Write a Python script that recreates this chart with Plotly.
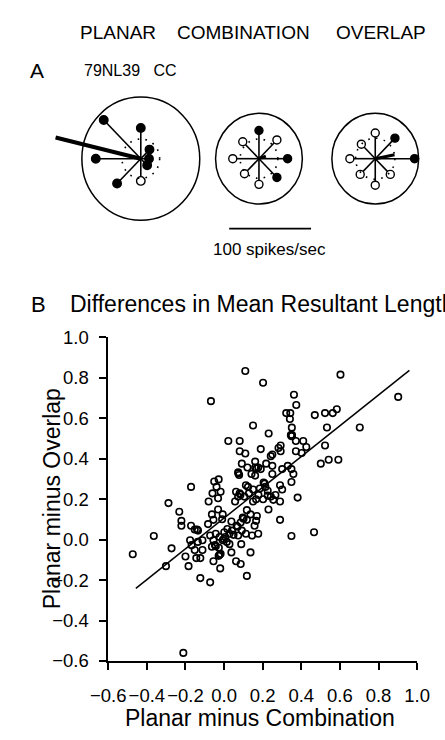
import numpy as np
import plotly.graph_objects as go

# ---------------- Panel B data ----------------
planar_minus_combination = [
    0.110, 0.202, -0.068, 0.362, 0.374, 0.322, 0.343, 0.341, 0.351, 0.346,
    0.352, 0.470, 0.150, 0.231, 0.022, 0.081, 0.081, 0.110, 0.190, 0.293,
    0.282, 0.293, 0.250, 0.242, 0.372, 0.410, 0.372, 0.402, 0.426, 0.161,
    0.092, 0.121, 0.161, 0.177, 0.190, 0.218, 0.250, 0.073, 0.078, 0.142,
    0.161, 0.250, 0.301, 0.330, 0.349, 0.359, 0.349, -0.051, -0.028, -0.039,
    -0.060, -0.018, -0.031, -0.080, -0.171, 0.113, 0.124, 0.150, 0.210, 0.214,
    0.185, 0.226, 0.062, 0.081, 0.073, 0.057, 0.105, 0.129, 0.178, 0.150,
    0.166, 0.202, 0.242, 0.255, 0.226, 0.266, 0.290, 0.301, 0.290, 0.381,
    0.230, 0.290, 0.349, 0.466, -0.288, -0.232, -0.221, -0.221, -0.364, -0.272,
    -0.301, -0.171, -0.152, -0.140, -0.176, -0.168, -0.136, -0.112, -0.152, -0.112,
    -0.200, -0.144, -0.123, -0.184, -0.123, -0.072, -0.083, -0.063, -0.055, -0.031,
    -0.007, -0.010, -0.072, -0.055, -0.063, -0.047, -0.023, -0.007, 0.006, 0.017,
    0.038, 0.041, 0.028, 0.028, -0.023, -0.055, -0.020, 0.038, 0.062, 0.086,
    0.118, 0.137, 0.089, 0.065, 0.086, 0.097, 0.118, 0.118, 0.092, 0.113,
    0.073, 0.145, 0.177, 0.158, 0.166, 0.170, 0.137, 0.049, 0.001, 0.014,
    -0.043, -0.027,
    0.603, 0.902, 0.523, 0.563, 0.584, 0.533, 0.703, 0.523, 0.501, 0.542,
    0.592, -0.473, -0.211,
    0.350, 0.168, 0.205, 0.085, -0.135, -0.043, -0.002, -0.018, -0.028, 0.070,
    0.101, 0.074,
]
planar_minus_overlap = [
    0.834, 0.776, 0.685, 0.717, 0.666, 0.626, 0.626, 0.597, 0.554, 0.517,
    0.517, 0.616, 0.565, 0.525, 0.488, 0.488, 0.437, 0.426, 0.448, 0.466,
    0.453, 0.437, 0.421, 0.413, 0.488, 0.488, 0.437, 0.429, 0.458, 0.386,
    0.376, 0.357, 0.357, 0.357, 0.349, 0.376, 0.365, 0.333, 0.320, 0.325,
    0.317, 0.325, 0.349, 0.365, 0.349, 0.325, 0.285, 0.288, 0.298, 0.261,
    0.229, 0.237, 0.205, 0.189, 0.261, 0.269, 0.261, 0.248, 0.277, 0.261,
    0.253, 0.242, 0.237, 0.229, 0.213, 0.189, 0.213, 0.229, 0.221, 0.189,
    0.200, 0.200, 0.213, 0.197, 0.218, 0.221, 0.269, 0.248, 0.189, 0.208,
    0.149, 0.098, 0.018, 0.037, 0.181, 0.138, 0.093, 0.069, 0.018, -0.043,
    -0.131, 0.069, 0.050, 0.050, -0.003, -0.027, -0.011, -0.003, -0.051, -0.051,
    -0.083, -0.091, -0.091, -0.131, -0.190, -0.211, 0.077, 0.125, 0.098, 0.149,
    0.125, 0.101, 0.021, -0.003, -0.035, -0.027, 0.013, -0.003, 0.013, 0.053,
    0.090, 0.045, 0.029, -0.022, -0.075, -0.107, -0.142, -0.063, -0.107, -0.120,
    -0.179, -0.063, -0.022, 0.069, 0.085, 0.109, 0.098, 0.146, 0.045, 0.029,
    0.021, 0.021, 0.029, 0.069, 0.093, 0.117, 0.125, 0.024, 0.037, -0.011,
    0.029, -0.040,
    0.816, 0.706, 0.626, 0.626, 0.645, 0.555, 0.555, 0.466, 0.376, 0.395,
    0.395, -0.072, -0.560,
    0.512, 0.352, 0.283, 0.222, 0.045, -0.032, 0.003, -0.070, -0.080, 0.064,
    0.104, 0.327,
]
fit_intercept = 0.107
fit_slope = 0.761
fit_x_range = [-0.457, 0.960]
tick_values = [-0.6, -0.4, -0.2, 0.0, 0.2, 0.4, 0.6, 0.8, 1.0]

# ---------------- Panel A data (spikes/sec) ----------------
directions_deg = [0, 45, 90, 135, 180, 225, 270, 315]
planar_rates = [10, 15, 36, 64, 55, 41, 26, 11]
combination_rates = [35, 31, 33, 28, 32, 25, 30, 31]
overlap_rates = [48, 34, 30, 24, 31, 26, 31, 26]
planar_filled = [1, 1, 1, 1, 1, 1, 0, 1]
combination_filled = [1, 0, 1, 0, 0, 0, 0, 1]
overlap_filled = [1, 1, 0, 0, 0, 0, 0, 0]
outer_radius = [72, 53, 53]
baseline_radius = [23, 23, 24]
resultant_length = [107, 9, 24]
resultant_angle_deg = [166.6, 20, 11]
scale_bar_value = 100
condition_names = ["PLANAR", "COMBINATION", "OVERLAP"]

# ---------------- layout constants ----------------
W, H = 445, 740
FONT = "Liberation Sans, Arial, Helvetica, sans-serif"
S = 0.88          # px per spike/sec in panel A
A_BOTTOM = 280    # px, bottom of panel A drawing area
centers_px = [(132, 152), (259, 152), (384, 152)]
marker_px = [8.5, 8, 8]
res_width = [4, 3, 3]

fig = go.Figure()

# ---- Panel B scatter ----
fig.add_trace(go.Scatter(
    x=planar_minus_combination, y=planar_minus_overlap, mode="markers",
    marker=dict(symbol="circle-open", size=6.5, color="black", line=dict(width=1.6)),
    xaxis="x", yaxis="y", showlegend=False, hoverinfo="skip"))
fx = np.array(fit_x_range)
fig.add_trace(go.Scatter(
    x=fx, y=fit_intercept + fit_slope * fx, mode="lines",
    line=dict(color="black", width=1.5), xaxis="x", yaxis="y",
    showlegend=False, hoverinfo="skip"))

# ---- Panel A polar diagrams ----
shapes = []
all_rates = [planar_rates, combination_rates, overlap_rates]
all_filled = [planar_filled, combination_filled, overlap_filled]
ang = np.deg2rad(directions_deg)
for i, (cpx, cpy) in enumerate(centers_px):
    cx = cpx / S
    cy = (A_BOTTOM - cpy) / S
    R = outer_radius[i]
    shapes.append(dict(type="circle", xref="x2", yref="y2",
                       x0=cx - R, x1=cx + R, y0=cy - R, y1=cy + R,
                       line=dict(color="black", width=1.5)))
    b = baseline_radius[i]
    shapes.append(dict(type="circle", xref="x2", yref="y2",
                       x0=cx - b, x1=cx + b, y0=cy - b, y1=cy + b,
                       line=dict(color="black", width=1.6, dash="1.6px,6.3px")))
    r = np.array(all_rates[i], dtype=float)
    ex = cx + r * np.cos(ang)
    ey = cy + r * np.sin(ang)
    lx, ly = [], []
    for k in range(len(r)):
        lx += [cx, ex[k], None]
        ly += [cy, ey[k], None]
    fig.add_trace(go.Scatter(x=lx, y=ly, mode="lines",
                             line=dict(color="black", width=1.6),
                             xaxis="x2", yaxis="y2", showlegend=False, hoverinfo="skip"))
    ra = np.deg2rad(resultant_angle_deg[i])
    L = resultant_length[i]
    fig.add_trace(go.Scatter(x=[cx, cx + L * np.cos(ra)], y=[cy, cy + L * np.sin(ra)],
                             mode="lines", line=dict(color="black", width=res_width[i]),
                             xaxis="x2", yaxis="y2", showlegend=False, hoverinfo="skip"))
    fills = ["black" if f else "white" for f in all_filled[i]]
    fig.add_trace(go.Scatter(x=ex, y=ey, mode="markers",
                             marker=dict(symbol="circle", size=marker_px[i], color=fills,
                                         line=dict(color="black", width=1.4)),
                             xaxis="x2", yaxis="y2", showlegend=False, hoverinfo="skip"))

# scale bar
sb_x0 = 227 / S
sb_y = (A_BOTTOM - 224) / S
fig.add_trace(go.Scatter(x=[sb_x0, sb_x0 + scale_bar_value], y=[sb_y, sb_y], mode="lines",
                         line=dict(color="black", width=1.7), xaxis="x2", yaxis="y2",
                         showlegend=False, hoverinfo="skip"))

# ---- annotations ----
def ann(text, px, py, size, xanchor="center", textangle=0):
    return dict(text=text, x=px / W, y=1 - py / H, xref="paper", yref="paper",
                xanchor=xanchor, yanchor="middle", showarrow=False, textangle=textangle,
                font=dict(family=FONT, size=size, color="black"))

annotations = [
    ann(condition_names[0], 107.5, 22, 19),
    ann(condition_names[1], 242.5, 22, 19),
    ann(condition_names[2], 390, 22, 19),
    ann("A", 20, 61, 21),
    ann("79NL39&nbsp;&nbsp;&nbsp;CC", 69, 61, 16, xanchor="left"),
    ann(f"{scale_bar_value} spikes/sec", 270, 245, 17),
    ann("B", 22, 302, 22),
    ann("Differences in Mean Resultant Length", 54, 302, 23, xanchor="left"),
    ann("Planar minus Combination", 260, 728, 23),
    ann("Planar minus Overlap", 36, 502, 23, textangle=-90),
]

axis_common = dict(range=[-0.6, 1.0], showline=True, linecolor="black", linewidth=1.5,
                   ticks="outside", ticklen=7, tickwidth=1.5, tickcolor="black",
                   tickvals=tick_values, tickformat=".1f", showgrid=False, zeroline=False,
                   tickfont=dict(family=FONT, size=18.5, color="black"), mirror=False)

fig.update_layout(
    width=W, height=H, margin=dict(l=0, r=0, t=0, b=0),
    paper_bgcolor="white", plot_bgcolor="white",
    xaxis=dict(domain=[97 / W, 429 / W], anchor="y", ticklabelstandoff=10, **axis_common),
    yaxis=dict(domain=[1 - 669 / H, 1 - 336 / H], anchor="x", ticklabelstandoff=7, **axis_common),
    xaxis2=dict(domain=[0, 1], range=[0, W / S], visible=False, anchor="y2", fixedrange=True),
    yaxis2=dict(domain=[1 - A_BOTTOM / H, 1], range=[0, A_BOTTOM / S], visible=False,
                anchor="x2", fixedrange=True),
    shapes=shapes, annotations=annotations, showlegend=False,
)

fig.write_html("out.html")
